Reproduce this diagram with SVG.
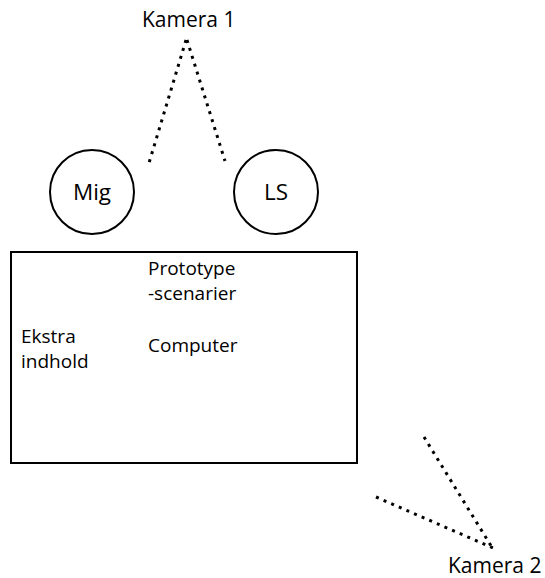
<svg xmlns="http://www.w3.org/2000/svg" width="545" height="578" viewBox="0 0 545 578">
  <style>
    .label { font-family: "Open Sans", "Liberation Sans", sans-serif; font-size: 19px; fill: #000; }
    .cam { font-size: 21px; }
    .person { font-size: 22.5px; }
    .shape { fill: #fff; stroke: #000; stroke-width: 2; }
    .view { fill: none; stroke: #000; stroke-width: 3; stroke-dasharray: 3 5.3; }
  </style>
  <rect width="545" height="578" fill="#fff"/>

  <!-- camera fields of view -->
  <g id="connectors">
    <line class="view" x1="186" y1="40" x2="149" y2="163"/>
    <line class="view" x1="187" y1="40" x2="225" y2="161"/>
    <line class="view" x1="424" y1="437" x2="493" y2="549"/>
    <line class="view" x1="376" y1="497" x2="493" y2="548"/>
  </g>

  <g id="kamera1">
    <text class="label cam" x="142" y="27">Kamera 1</text>
  </g>

  <g id="mig">
    <circle class="shape" cx="92" cy="192" r="42"/>
    <text class="label person" x="92" y="200" text-anchor="middle">Mig</text>
  </g>

  <g id="ls">
    <circle class="shape" cx="276" cy="192" r="42"/>
    <text class="label person" x="276" y="200" text-anchor="middle">LS</text>
  </g>

  <g id="computer">
    <rect class="shape" x="11" y="252" width="346" height="211"/>
    <text class="label" x="148" y="275">Prototype</text>
    <text class="label" x="148" y="300">-scenarier</text>
    <text class="label" x="148" y="352">Computer</text>
    <text class="label" x="21" y="343">Ekstra</text>
    <text class="label" x="21" y="368">indhold</text>
  </g>

  <g id="kamera2">
    <text class="label cam" x="448" y="573">Kamera 2</text>
  </g>
</svg>
